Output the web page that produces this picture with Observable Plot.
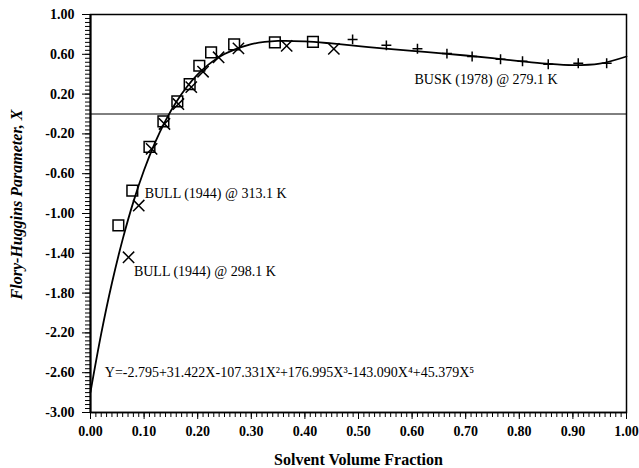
<!DOCTYPE html>
<html><head><meta charset="utf-8">
<script src="https://cdn.jsdelivr.net/npm/d3@7"></script>
<script src="https://cdn.jsdelivr.net/npm/@observablehq/plot@0.6"></script>
<style>
body{margin:0;background:#fff;}
#chart svg{display:block;}
#chart [aria-label="x-axis tick label"], #chart [aria-label="y-axis tick label"]{font-weight:bold;font-size:14px;}
#chart [aria-label="x-axis label"]{font-weight:bold;font-size:16px;}
#chart [aria-label="y-axis label"]{font-weight:bold;font-style:italic;font-size:16px;}
#chart [aria-label="text"]{font-size:14px;}
</style>
</head><body><div id="chart"></div>
<script>
// Axis tick labels
const xTicks = [0.00, 0.10, 0.20, 0.30, 0.40, 0.50, 0.60, 0.70, 0.80, 0.90, 1.00];
const yTicks = [1.00, 0.60, 0.20, -0.20, -0.60, -1.00, -1.40, -1.80, -2.20, -2.60, -3.00];

// BULL (1944) @ 313.1 K  (squares)
const bull313X = [0.052, 0.078, 0.110, 0.136, 0.162, 0.185, 0.203, 0.225, 0.268, 0.344, 0.415];
const bull313Y = [-1.12, -0.77, -0.33, -0.075, 0.126, 0.30, 0.485, 0.62, 0.70, 0.72, 0.725];

// BULL (1944) @ 298.1 K  (crosses)
const bull298X = [0.071, 0.090, 0.114, 0.138, 0.164, 0.188, 0.210, 0.239, 0.276, 0.366, 0.454];
const bull298Y = [-1.44, -0.92, -0.35, -0.10, 0.10, 0.27, 0.425, 0.57, 0.66, 0.685, 0.655];

// BUSK (1978) @ 279.1 K  (plus)
const buskX = [0.489, 0.552, 0.610, 0.665, 0.712, 0.765, 0.806, 0.854, 0.910, 0.963];
const buskY = [0.75, 0.69, 0.655, 0.607, 0.578, 0.55, 0.53, 0.50, 0.51, 0.51];

// Fitted curve
const curveX = [0, 0.02, 0.04, 0.06, 0.08, 0.10, 0.12, 0.14, 0.16, 0.18, 0.20, 0.22, 0.25, 0.30, 0.35, 0.40, 0.45, 0.50, 0.55, 0.60, 0.65, 0.70, 0.75, 0.80, 0.85, 0.90, 0.95, 1.00];
const curveY = [-2.795, -2.208, -1.699, -1.260, -0.883, -0.563, -0.293, -0.066, 0.121, 0.274, 0.398, 0.496, 0.603, 0.702, 0.734, 0.730, 0.709, 0.683, 0.657, 0.634, 0.612, 0.588, 0.561, 0.532, 0.506, 0.491, 0.506, 0.578];

// Annotations
const notes = [
  {x: 0.101, y: -0.80, text: "BULL (1944) @ 313.1 K"},
  {x: 0.081, y: -1.58, text: "BULL (1944) @ 298.1 K"},
  {x: 0.6045, y: 0.347, text: "BUSK (1978) @ 279.1 K"},
  {x: 0.0267, y: -2.595, text: "Y=-2.795+31.422X-107.331X\u00B2+176.995X\u00B3-143.090X\u2074+45.379X\u2075"}
];

const toRows = (xs, ys) => xs.map((x, i) => ({x, y: ys[i]}));
const bull313 = toRows(bull313X, bull313Y);
const bull298 = toRows(bull298X, bull298Y);
const busk = toRows(buskX, buskY);
const curve = toRows(curveX, curveY);

const xMinor = d3.range(0, 101).map(i => i / 100);
const yMinor = d3.range(0, 101).map(i => -3 + i * 0.04);
const fmt = d => d.toFixed(2);

const chart = Plot.plot({
  width: 639, height: 468,
  marginLeft: 90, marginRight: 13, marginTop: 14, marginBottom: 56,
  style: {fontFamily: "'Liberation Serif', 'Times New Roman', serif", background: "#fff", color: "#000"},
  x: {domain: [0, 1]},
  y: {domain: [-3, 1]},
  marks: [
    Plot.axisX({ticks: xMinor, tickSize: 5, tickFormat: () => "", label: null, stroke: "#000"}),
    Plot.axisY({ticks: yMinor, tickSize: 5, tickFormat: () => "", label: null, stroke: "#000"}),
    Plot.axisX({ticks: xTicks, tickSize: 7, tickPadding: 7, tickFormat: fmt, label: "Solvent Volume Fraction", labelAnchor: "center", labelOffset: 52, labelArrow: "none", stroke: "#000", fill: "#000"}),
    Plot.axisY({ticks: yTicks, tickSize: 8, tickPadding: 8, tickFormat: fmt, label: "Flory-Huggins Parameter, X", labelAnchor: "center", labelOffset: 80, labelArrow: "none", stroke: "#000", fill: "#000"}),
    Plot.frame({stroke: "#000", strokeWidth: 1.5}),
    Plot.ruleX([0], {stroke: "#000", strokeWidth: 2}),
    Plot.ruleY([-3], {stroke: "#000", strokeWidth: 1.5}),
    Plot.ruleY([0], {stroke: "#000", strokeWidth: 1}),
    Plot.line(curve, {x: "x", y: "y", curve: "catmull-rom", stroke: "#000", strokeWidth: 1.8}),
    Plot.dot(bull313, {x: "x", y: "y", symbol: "square2", r: 6.8, stroke: "#000", strokeWidth: 1.5}),
    Plot.dot(bull298, {x: "x", y: "y", symbol: "times", r: 5.2, stroke: "#000", strokeWidth: 1.5}),
    Plot.dot(busk, {x: "x", y: "y", symbol: "plus", r: 3.3, stroke: "#000", strokeWidth: 1.5}),
    Plot.text(notes, {x: "x", y: "y", text: "text", textAnchor: "start", fill: "#000", fontSize: 14})
  ]
});
d3.select(chart).selectAll('[aria-label="y-axis label"] text').attr("dx", 9);
document.getElementById("chart").appendChild(chart);
</script>
</body></html>
